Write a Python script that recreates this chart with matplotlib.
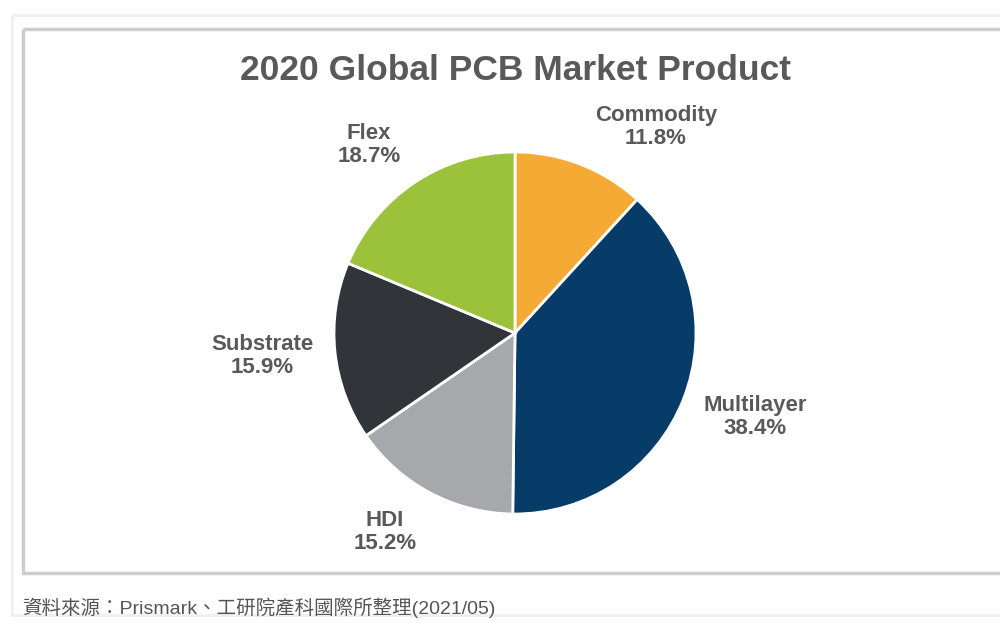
import matplotlib.pyplot as plt
from matplotlib.patches import Rectangle

# data
labels = ["Commodity", "Multilayer", "HDI", "Substrate", "Flex"]
shares = [11.8, 38.4, 15.2, 15.9, 18.7]
colors = ["#F4AA35", "#083C68", "#A6A8AB", "#313539", "#9CC23C"]

title = "2020 Global PCB Market Product"
source = "資料來源：Prismark、工研院產科國際所整理(2021/05)"

W, H = 1000, 623
fig = plt.figure(figsize=(W / 100, H / 100), dpi=100)
ax = fig.add_axes([0, 0, 1, 1])
ax.set_xlim(0, W)
ax.set_ylim(H, 0)
ax.axis("off")

# frames
ax.add_patch(Rectangle((12, 15), 1000, 600, fill=False, ec="#efefef", lw=2))
ax.add_patch(Rectangle((23, 29), 990, 544, fill=False, ec="#cccccc", lw=2.5))

ax.text(516, 70, title, ha="center", va="center", fontsize=25.5, fontweight="bold",
        color="#595959", family="Liberation Sans")

# pie in its own axes so the y flip doesn't mirror it
cx, cy, r = 515, 333, 181
pax = fig.add_axes([(cx - r) / W, 1 - (cy + r) / H, 2 * r / W, 2 * r / H])
pax.pie(shares, colors=colors, startangle=90, counterclock=False,
        wedgeprops=dict(edgecolor="white", linewidth=2))
pax.set_aspect("auto")
pax.set_xlim(-1, 1)
pax.set_ylim(-1, 1)
pax.axis("off")

label_pos = [(656, 127), (755, 417), (385, 532), (262, 356), (369, 145)]
for name, val, (x, y) in zip(labels, shares, label_pos):
    ax.text(x, y, f"{name}\n{val}%", ha="center", va="center", fontsize=16,
            fontweight="bold", color="#595959", family="Liberation Sans",
            linespacing=1.12)

ax.text(22, 608, source, ha="left", va="center", fontsize=14, color="#555555",
        family=["Liberation Sans", "Noto Sans CJK TC"])

fig.savefig("out.png", dpi=100)
